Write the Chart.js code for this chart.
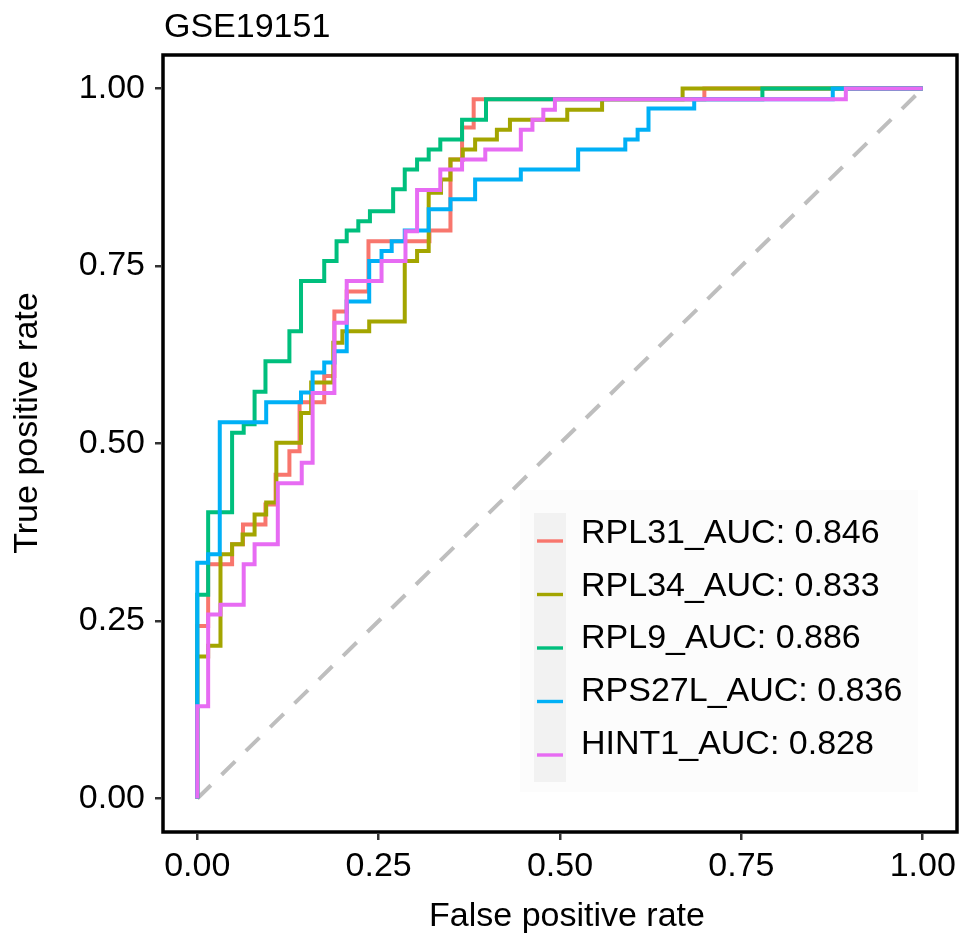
<!DOCTYPE html>
<html>
<head>
<meta charset="utf-8">
<title>GSE19151 ROC</title>
<script src="https://cdn.jsdelivr.net/npm/chart.js@4.4.1/dist/chart.umd.min.js"></script>
<style>
  html, body { margin: 0; padding: 0; background: #fff; }
  #wrap { width: 969px; height: 947px; }
</style>
</head>
<body>
<div id="wrap"><canvas id="roc" width="969" height="947"></canvas></div>
<script>
// ROC curves (fpr / tpr corner points, step plot)
const genes = ["RPL31", "RPL34", "RPL9", "RPS27L", "HINT1"];
const aucs = [0.846, 0.833, 0.886, 0.836, 0.828];

const rpl31Fpr = [0, 0.015, 0.048, 0.063, 0.094, 0.108, 0.127, 0.141, 0.175, 0.189, 0.206, 0.236, 0.32, 0.349, 0.365, 0.381, 0.699, 1];
const rpl31Tpr = [0, 0.243, 0.33, 0.358, 0.386, 0.414, 0.456, 0.489, 0.558, 0.595, 0.686, 0.714, 0.785, 0.80, 0.90, 0.945, 0.985, 1];

const rpl34Fpr = [0, 0.015, 0.032, 0.048, 0.0625, 0.079, 0.095, 0.109, 0.143, 0.157, 0.1875, 0.2, 0.237, 0.286, 0.303, 0.319, 0.336, 0.349, 0.366, 0.383, 0.413, 0.431, 0.51, 0.558, 0.669, 1];
const rpl34Tpr = [0, 0.20, 0.215, 0.344, 0.358, 0.372, 0.40, 0.417, 0.501, 0.543, 0.586, 0.642, 0.658, 0.672, 0.757, 0.771, 0.853, 0.872, 0.90, 0.914, 0.928, 0.942, 0.956, 0.97, 0.985, 1];

const rpl9Fpr = [0, 0.015, 0.048, 0.064, 0.079, 0.094, 0.127, 0.143, 0.175, 0.192, 0.206, 0.222, 0.238, 0.270, 0.286, 0.303, 0.319, 0.335, 0.365, 0.398, 0.779, 1];
const rpl9Tpr = [0, 0.287, 0.403, 0.515, 0.527, 0.573, 0.616, 0.658, 0.729, 0.757, 0.785, 0.80, 0.813, 0.827, 0.858, 0.886, 0.90, 0.914, 0.928, 0.956, 0.985, 1];

const rps27lFpr = [0, 0.015, 0.031, 0.095, 0.143, 0.159, 0.175, 0.189, 0.206, 0.237, 0.254, 0.268, 0.286, 0.319, 0.349, 0.383, 0.446, 0.525, 0.59, 0.607, 0.622, 0.685, 0.876, 1];
const rps27lTpr = [0, 0.332, 0.344, 0.53, 0.558, 0.572, 0.60, 0.614, 0.63, 0.70, 0.757, 0.771, 0.785, 0.80, 0.83, 0.844, 0.872, 0.886, 0.914, 0.928, 0.942, 0.972, 0.985, 1];

const hint1Fpr = [0, 0.015, 0.032, 0.064, 0.079, 0.111, 0.144, 0.159, 0.189, 0.206, 0.254, 0.287, 0.303, 0.335, 0.365, 0.397, 0.446, 0.462, 0.477, 0.493, 0.894, 1];
const hint1Tpr = [0, 0.13, 0.259, 0.273, 0.33, 0.358, 0.444, 0.473, 0.571, 0.67, 0.729, 0.757, 0.799, 0.857, 0.886, 0.90, 0.914, 0.942, 0.956, 0.97, 0.985, 1];

const diagX = [0, 1];
const diagY = [0, 1];
const axisTicks = [0, 0.25, 0.5, 0.75, 1];

const curves = [
  [rpl31Fpr, rpl31Tpr],
  [rpl34Fpr, rpl34Tpr],
  [rpl9Fpr, rpl9Tpr],
  [rps27lFpr, rps27lTpr],
  [hint1Fpr, hint1Tpr],
];
const colors = ["#F8766D", "#A3A500", "#00BF7D", "#00B0F6", "#E76BF3"];

const FONT = "'Liberation Sans', Arial, Helvetica, sans-serif";
const LINE_W = 4;
const toPoints = (xs, ys) => xs.map((x, i) => ({ x: x, y: ys[i] }));

const datasets = curves.map(([xs, ys], i) => ({
  label: genes[i] + "_AUC: " + aucs[i].toFixed(3),
  data: toPoints(xs, ys),
  borderColor: colors[i],
  borderWidth: LINE_W,
  stepped: "after",
  pointRadius: 0,
  fill: false,
  order: curves.length - i, // last gene on top, like ggplot
}));
datasets.push({
  label: "diagonal",
  data: toPoints(diagX, diagY),
  borderColor: "#BEBEBE",
  borderWidth: LINE_W,
  borderDash: [19, 15],
  borderCapStyle: "butt",
  pointRadius: 0,
  fill: false,
  order: 10,
});

// title, axis titles, legend and panel border (ggplot look)
const decor = {
  id: "decor",
  afterDatasetsDraw(chart) {
    const ctx = chart.ctx;
    ctx.save();
    ctx.fillStyle = "#FCFCFC";
    ctx.fillRect(520, 490, 398, 302);
    ctx.fillStyle = "#F2F2F2";
    ctx.fillRect(534, 513, 32, 269);
    ctx.font = "34px " + FONT;
    ctx.textAlign = "left";
    ctx.textBaseline = "alphabetic";
    for (let i = 0; i < genes.length; i++) {
      const ky = 541 + 53.5 * i;
      ctx.strokeStyle = colors[i];
      ctx.lineWidth = 3.4;
      ctx.beginPath();
      ctx.moveTo(537, ky);
      ctx.lineTo(563, ky);
      ctx.stroke();
      ctx.fillStyle = "#000";
      ctx.fillText(chart.data.datasets[i].label, 581, 543 + 52.7 * i);
    }
    ctx.restore();
  },
  afterDraw(chart) {
    const { ctx, chartArea: a } = chart;
    ctx.save();
    ctx.strokeStyle = "#000";
    ctx.lineWidth = 3.5;
    ctx.strokeRect(a.left + 2, a.top + 2, a.right - a.left - 4, a.bottom - a.top - 4);

    ctx.fillStyle = "#000";
    ctx.font = "34px " + FONT;
    ctx.textBaseline = "alphabetic";
    ctx.textAlign = "left";
    ctx.fillText("GSE19151", 164, 37);

    ctx.textAlign = "center";
    ctx.fillText("False positive rate", 567, 926);

    ctx.translate(37, 423);
    ctx.rotate(-Math.PI / 2);
    ctx.fillText("True positive rate", 0, 0);
    ctx.restore();
  },
};

const tickStyle = {
  color: "#000",
  font: { family: FONT, size: 34 },
  callback: (v) => Number(v).toFixed(2),
};
const gridStyle = {
  display: true,
  drawOnChartArea: false,
  drawTicks: true,
  tickLength: 6,
  color: "#333333",
  lineWidth: 2.5,
};

new Chart(document.getElementById("roc"), {
  type: "line",
  data: { datasets },
  options: {
    responsive: false,
    devicePixelRatio: 1,
    animation: false,
    layout: { padding: { top: 53, right: 10, bottom: 0, left: 0 } },
    plugins: {
      legend: { display: false },
      tooltip: { enabled: false },
      title: { display: false },
    },
    scales: {
      x: {
        type: "linear",
        min: -0.05,
        max: 1.05,
        afterBuildTicks: (axis) => { axis.ticks = axisTicks.map((v) => ({ value: v })); },
        afterFit: (axis) => { axis.height = 113; },
        ticks: { ...tickStyle, padding: 6, maxRotation: 0, autoSkip: false },
        grid: gridStyle,
        border: { display: false },
      },
      y: {
        type: "linear",
        min: -0.05,
        max: 1.05,
        afterBuildTicks: (axis) => { axis.ticks = axisTicks.map((v) => ({ value: v })); },
        afterFit: (axis) => { axis.width = 161; },
        ticks: { ...tickStyle, padding: 10, autoSkip: false },
        grid: gridStyle,
        border: { display: false },
      },
    },
  },
  plugins: [decor],
});
</script>
</body>
</html>
